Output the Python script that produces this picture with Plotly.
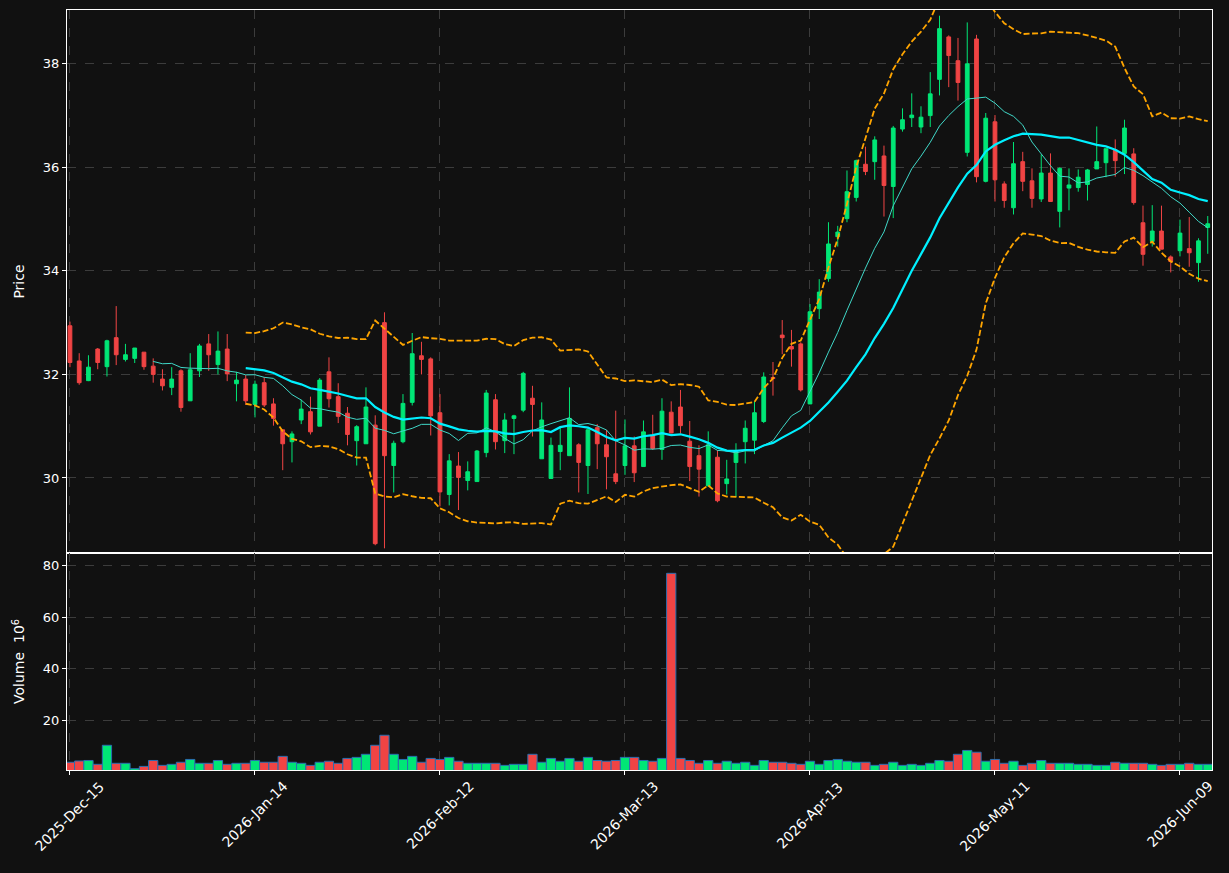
import numpy as np
import pandas as pd
import plotly.graph_objects as go

# ---------------- data ----------------
holidays = ["2025-12-25", "2026-01-01", "2026-01-19", "2026-02-16", "2026-04-03", "2026-05-25"]
start_date = "2025-12-15"

opens = [32.94, 32.26, 31.88, 32.49, 32.15, 32.71, 32.29, 32.31, 32.43, 32.16,
         31.91, 31.75, 32.07, 31.49, 32.07, 32.59, 32.19, 32.49, 31.82, 31.91,
         31.42, 31.84, 31.43, 30.93, 30.70, 31.12, 31.28, 31.00, 32.05, 31.57,
         31.25, 30.72, 30.66, 31.02, 33.00, 30.24, 30.70, 31.46, 32.36, 32.30,
         31.26, 29.68, 30.23, 29.95, 29.93, 30.49, 31.51, 30.72, 31.15, 31.31,
         31.54, 30.37, 29.99, 30.51, 30.43, 30.64, 30.24, 30.97, 30.64, 30.08,
         30.24, 30.62, 30.22, 30.82, 30.55, 31.27, 31.37, 30.71, 30.43, 29.85,
         30.40, 29.89, 30.30, 30.70, 30.73, 31.09, 31.94, 32.76, 32.54, 32.59,
         31.43, 33.27, 33.85, 34.66, 35.01, 35.42, 36.06, 36.11, 36.22, 35.63,
         36.74, 36.96, 36.78, 37.00, 37.70, 38.52, 38.06, 36.29, 38.48, 35.73,
         36.88, 35.68, 35.22, 36.11, 35.74, 35.39, 35.89, 35.15, 35.60, 35.61,
         35.67, 35.97, 36.09, 36.34, 36.27, 36.26, 34.93, 34.57, 34.77, 34.27,
         34.39, 34.43, 34.16, 34.84]
highs = [33.02, 32.41, 32.37, 32.51, 32.67, 33.32, 32.59, 32.51, 32.43, 32.31,
         32.10, 32.14, 32.10, 32.41, 32.59, 32.78, 32.83, 32.78, 32.05, 31.99,
         31.88, 31.95, 31.54, 30.93, 30.90, 31.51, 31.57, 31.93, 32.33, 31.83,
         31.37, 31.02, 31.75, 31.21, 33.20, 30.72, 31.62, 32.80, 32.63, 32.33,
         31.62, 30.46, 30.50, 30.32, 30.54, 31.70, 31.62, 31.25, 31.22, 32.05,
         31.78, 31.46, 30.78, 30.99, 31.75, 30.67, 30.96, 31.04, 30.93, 31.30,
         31.13, 30.80, 31.11, 31.22, 31.54, 31.48, 31.70, 31.10, 30.63, 30.90,
         30.54, 30.35, 30.67, 31.11, 31.48, 32.04, 32.24, 33.05, 32.86, 32.62,
         33.36, 33.84, 34.94, 34.87, 35.94, 36.15, 36.40, 36.60, 36.42, 36.80,
         37.14, 37.43, 37.18, 37.84, 38.93, 38.55, 38.50, 38.80, 38.56, 37.05,
         37.01, 35.73, 36.49, 36.30, 35.98, 36.25, 36.27, 36.00, 35.98, 35.96,
         35.97, 36.79, 36.36, 36.54, 36.92, 36.37, 35.26, 35.27, 35.26, 34.30,
         34.99, 35.04, 34.63, 35.06]
lows = [32.14, 31.80, 31.87, 32.10, 31.96, 32.18, 32.25, 32.22, 32.09, 31.84,
        31.69, 31.60, 31.28, 31.49, 31.95, 32.07, 32.00, 31.87, 31.48, 31.41,
        31.17, 31.37, 31.01, 30.15, 30.30, 31.04, 30.84, 31.00, 31.36, 31.06,
        30.63, 30.24, 30.66, 28.70, 28.64, 29.72, 30.67, 31.40, 32.00, 30.82,
        29.45, 29.47, 29.38, 29.76, 29.93, 30.40, 30.55, 30.48, 30.46, 31.27,
        30.80, 30.37, 29.99, 30.15, 30.43, 29.72, 29.69, 30.17, 29.78, 29.88,
        30.06, 29.92, 30.22, 30.54, 30.35, 30.86, 30.86, 29.94, 29.64, 29.83,
        29.53, 29.68, 29.63, 30.28, 30.46, 31.06, 31.59, 32.39, 32.15, 31.67,
        31.43, 33.07, 33.79, 34.47, 34.94, 35.34, 35.85, 35.76, 35.05, 35.02,
        36.69, 36.78, 36.66, 36.78, 37.39, 37.55, 37.29, 36.21, 35.71, 35.71,
        35.34, 35.22, 35.09, 35.54, 35.22, 35.33, 35.34, 34.84, 35.17, 35.53,
        35.36, 35.97, 35.81, 35.82, 35.87, 35.28, 34.10, 34.47, 34.42, 33.97,
        34.28, 34.08, 33.79, 34.33]
closes = [32.23, 31.84, 32.14, 32.23, 32.65, 32.38, 32.38, 32.51, 32.15, 32.00,
          31.78, 31.91, 31.36, 32.09, 32.55, 32.38, 32.45, 32.01, 31.89, 31.49,
          31.81, 31.41, 31.15, 30.66, 30.85, 31.33, 30.89, 31.89, 31.53, 31.19,
          30.84, 30.99, 31.37, 28.73, 30.43, 30.67, 31.44, 32.40, 32.29, 31.20,
          29.73, 30.33, 30.01, 30.12, 30.52, 31.64, 30.70, 31.12, 31.20, 32.02,
          31.42, 31.12, 30.63, 30.63, 31.15, 30.30, 30.93, 30.66, 30.41, 29.93,
          30.62, 30.10, 30.89, 30.57, 31.29, 30.87, 31.01, 30.22, 30.17, 30.64,
          29.56, 29.98, 30.53, 30.96, 31.26, 31.95, 31.92, 32.71, 32.49, 31.70,
          33.21, 33.59, 34.52, 34.75, 35.53, 36.13, 35.92, 36.53, 35.65, 36.76,
          36.92, 37.01, 36.97, 37.42, 38.68, 38.16, 37.64, 38.00, 35.82, 36.95,
          35.76, 35.36, 36.07, 35.73, 35.40, 35.89, 35.34, 35.98, 35.66, 35.81,
          35.95, 36.11, 36.36, 36.13, 36.76, 35.32, 34.32, 34.77, 34.42, 34.18,
          34.73, 34.35, 34.58, 34.91]
volumes = [3.6, 4.1, 4.3, 2.8, 10.2, 3.2, 3.2, 1.1, 2.0, 4.3,
           2.4, 2.8, 3.6, 4.7, 3.2, 3.2, 4.3, 2.8, 3.2, 3.2,
           4.3, 3.6, 3.6, 5.9, 3.6, 3.2, 2.4, 3.6, 4.0, 3.2,
           5.1, 5.5, 6.7, 10.2, 14.1, 6.7, 4.7, 5.9, 3.6, 5.1,
           4.7, 5.5, 4.0, 3.2, 3.2, 3.2, 3.2, 2.4, 2.8, 2.8,
           6.7, 3.6, 5.1, 4.0, 5.1, 4.0, 5.5, 4.3, 4.0, 4.3,
           5.5, 5.5, 4.3, 4.0, 5.1, 77.0, 5.1, 4.3, 3.2, 4.3,
           3.2, 4.0, 3.2, 3.6, 2.4, 4.3, 3.6, 3.6, 3.2, 2.8,
           4.0, 2.8, 4.3, 4.7, 4.0, 3.6, 3.6, 2.4, 2.8, 3.6,
           2.4, 2.8, 2.4, 3.2, 4.3, 4.0, 6.7, 8.2, 7.5, 4.0,
           4.7, 3.2, 4.0, 2.4, 3.2, 4.3, 3.2, 3.2, 3.2, 2.8,
           2.8, 2.4, 2.4, 3.6, 3.2, 3.2, 3.2, 2.8, 2.4, 2.8,
           2.8, 3.2, 2.8, 2.8]

# ---------------- derived ----------------
n = len(closes)
bday = pd.offsets.CustomBusinessDay(holidays=holidays)
dates = pd.date_range(start_date, periods=n, freq=bday)
x = np.arange(n)
close_s = pd.Series(closes)
ma10 = close_s.rolling(10).mean()
ma20 = close_s.rolling(20).mean()
sd20 = close_s.rolling(20).std()
upper = ma20 + 2 * sd20
lower = ma20 - 2 * sd20

UP = "#00e676"
DOWN = "#f04444"
vol_colors = [UP if c >= o else DOWN for o, c in zip(opens, closes)]

tick_idx = x[::20]
tick_text = [dates[i].strftime("%Y-%b-%d") for i in tick_idx]

FONT = "DejaVu Sans"
BG = "#111111"
GRID = "#3c3c3c"

fig = go.Figure()
fig.add_trace(go.Candlestick(
    x=x, open=opens, high=highs, low=lows, close=closes,
    increasing=dict(line=dict(color=UP, width=1), fillcolor=UP),
    decreasing=dict(line=dict(color=DOWN, width=1), fillcolor=DOWN),
    whiskerwidth=0, xaxis="x", yaxis="y", showlegend=False))
fig.add_trace(go.Scatter(x=x, y=upper, mode="lines", xaxis="x", yaxis="y",
                         line=dict(color="#ffa500", width=1.8, dash="6px,2.5px"), showlegend=False))
fig.add_trace(go.Scatter(x=x, y=lower, mode="lines", xaxis="x", yaxis="y",
                         line=dict(color="#ffa500", width=1.8, dash="6px,2.5px"), showlegend=False))
fig.add_trace(go.Scatter(x=x, y=ma10, mode="lines", xaxis="x", yaxis="y",
                         line=dict(color="#40d8c8", width=1), showlegend=False))
fig.add_trace(go.Scatter(x=x, y=ma20, mode="lines", xaxis="x", yaxis="y",
                         line=dict(color="#00f0ff", width=2.2), showlegend=False))
fig.add_trace(go.Bar(x=x, y=volumes, marker=dict(color=vol_colors, line=dict(color="#2a6fb0", width=1)),
                     width=1.0, xaxis="x2", yaxis="y2", showlegend=False))

split = 217 / 760
axis_common = dict(showline=True, linecolor="white", linewidth=1, mirror=True,
                   gridcolor=GRID, griddash="dash", gridwidth=1, zeroline=False,
                   ticks="outside", tickcolor="white", ticklen=4,
                   tickfont=dict(family=FONT, size=13, color="white"))
xr = [-0.32, 123.46]

# date labels: rotated 45 degrees, centred under their ticks
for xi, label in zip(tick_idx, tick_text):
    fig.add_annotation(x=xi, y=-0.009, xref="x2", yref="paper", text=label, showarrow=False,
                       textangle=-45, xanchor="center", yanchor="top", borderpad=0,
                       font=dict(family=FONT, size=14, color="white"))

fig.update_layout(
    width=1229, height=873, paper_bgcolor=BG, plot_bgcolor=BG,
    margin=dict(l=67, r=17, t=10, b=103),
    boxgap=0.42,
    font=dict(family=FONT, color="white", size=13),
    xaxis=dict(domain=[0, 1], anchor="y", range=xr, tickvals=tick_idx, ticktext=tick_text,
               showticklabels=False, rangeslider=dict(visible=False), **axis_common),
    yaxis=dict(domain=[split, 1], anchor="x", range=[28.55, 39.04], tickvals=[30, 32, 34, 36, 38],
               title=dict(text="Price", font=dict(family=FONT, size=14, color="white"), standoff=14),
               **axis_common),
    xaxis2=dict(domain=[0, 1], anchor="y2", range=xr, tickvals=tick_idx, ticktext=tick_text,
                showticklabels=False, matches="x", **axis_common),
    yaxis2=dict(domain=[0, split], anchor="x2", range=[0.6, 84.9], tickvals=[20, 40, 60, 80],
                title=dict(text="Volume  10<sup>6</sup>", font=dict(family=FONT, size=14, color="white"), standoff=14),
                **axis_common),
)
fig.write_html("out.html")
